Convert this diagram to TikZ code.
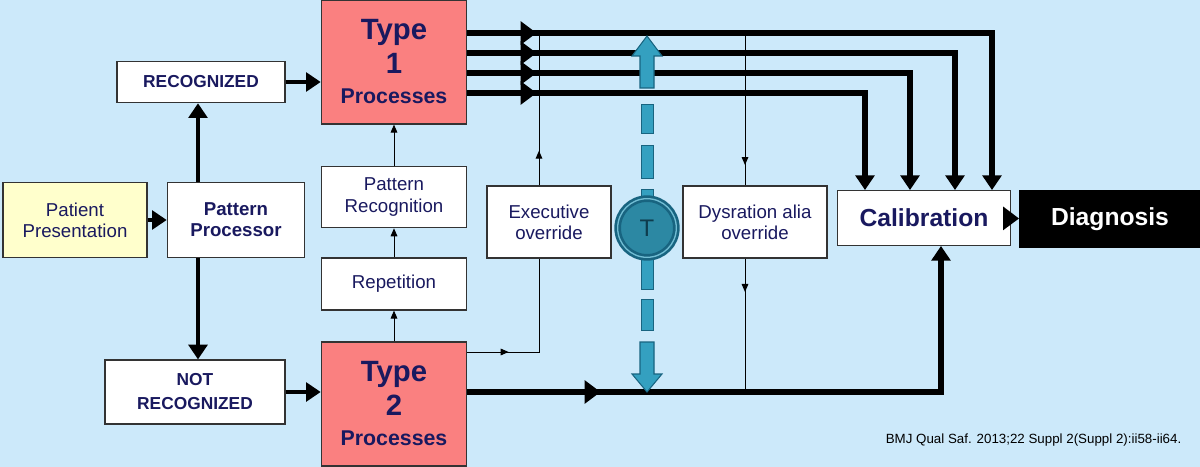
\documentclass[tikz,border=0pt]{standalone}
\usepackage{fontspec}
\setmainfont{Liberation Sans}
\usetikzlibrary{arrows.meta,decorations.markings}
\definecolor{bgblue}{RGB}{204,233,250}
\definecolor{pinkbox}{RGB}{250,128,128}
\definecolor{paleyellow}{RGB}{255,255,204}
\definecolor{navytext}{RGB}{25,25,95}
\definecolor{tblue}{RGB}{52,160,192}
\definecolor{tdark}{RGB}{24,100,128}
\tikzset{
  box/.style={draw=black!80,line width=0.9pt,fill=white,text=navytext,align=center,inner sep=1pt,font=\fontsize{14}{16}\selectfont},
  procbox/.style={box,fill=pinkbox,font=\bfseries\fontsize{22}{25}\selectfont},
  thick/.style={line width=5pt,-{Triangle[length=11pt,width=14pt]}},
  thin/.style={line width=0.75pt,-{Triangle[length=6pt,width=5pt]}},
  midarrow/.style={postaction={decorate},decoration={markings,mark=at position #1 with {\arrow{Triangle[length=12pt,width=17pt]}}}},
  midthin/.style={postaction={decorate},decoration={markings,mark=at position #1 with {\arrow{Triangle[length=6pt,width=5pt]}}}},
}
\begin{document}
\begin{tikzpicture}[x=0.75pt,y=0.75pt,yscale=-1,xscale=1]
\fill[bgblue] (0,0) rectangle (1200,467);
\useasboundingbox (0,0) rectangle (1200,467);

% boxes
\node[box,fill=paleyellow,minimum width=108pt,minimum height=56pt] (patient) at (75,220) {Patient\\Presentation};
\node[box,minimum width=103pt,minimum height=56pt,font=\bfseries\fontsize{14}{16}\selectfont] (proc) at (236,220) {Pattern\\Processor};
\node[box,minimum width=126pt,minimum height=31pt,font=\bfseries\fontsize{13}{15}\selectfont] (rec) at (201,82) {RECOGNIZED};
\node[box,minimum width=135pt,minimum height=48pt,font=\bfseries\fontsize{13}{18}\selectfont] (notrec) at (195,392) {NOT\\RECOGNIZED};
\node[procbox,minimum width=109pt,minimum height=93pt] (type1) at (394,62) {Type\\1\\[-2pt]{\fontsize{16}{19}\selectfont Processes}};
\node[procbox,minimum width=109pt,minimum height=93pt] (type2) at (394,404) {Type\\2\\[-2pt]{\fontsize{16}{19}\selectfont Processes}};
\node[box,minimum width=109pt,minimum height=46pt] (patrec) at (394,197) {Pattern\\Recognition};
\node[box,minimum width=109pt,minimum height=39pt] (repet) at (394,284) {Repetition};
\node[box,minimum width=93pt,minimum height=54pt] (exec) at (549,222) {Executive\\override};
\node[box,minimum width=108pt,minimum height=54pt] (dys) at (755,222) {Dysration alia\\override};
\node[box,minimum width=130pt,minimum height=41pt,font=\bfseries\fontsize{18.5}{20}\selectfont] (cal) at (924,218) {Calibration};
\node[draw=black,fill=black,text=white,minimum width=136pt,minimum height=43pt,inner sep=1pt,font=\bfseries\fontsize{18.5}{20}\selectfont] (diag) at (1110,219) {Diagnosis};
\node[anchor=east,text=black,font=\fontsize{10}{12}\selectfont] (cite) at (1186,440) {BMJ Qual Saf. 2013;22 Suppl 2(Suppl 2):ii58-ii64.};

% connectors on the left
\coordinate (vx) at (198,0);
\draw[thick,line width=3.5pt] (patient) -- (proc);
\draw[thick,line width=3.5pt] (proc.north -| vx) -- (rec.south -| vx);
\draw[thick,line width=3.5pt] (proc.south -| vx) -- (notrec.north -| vx);
\draw[thick,line width=3.5pt] (rec) -- (type1.west |- rec);
\draw[thick,line width=3.5pt] (notrec) -- (type2.west |- notrec);
\draw[thin] (type2) -- (repet);
\draw[thin] (repet) -- (patrec);
\draw[thin] (patrec) -- (type1);
\draw[line width=5pt,-{Triangle[length=12pt,width=17pt]}] (cal) -- (diag);

% type 1 outputs
\coordinate (c1) at (992,0);
\coordinate (c2) at (955,0);
\coordinate (c3) at (910,0);
\coordinate (c4) at (865,0);
\draw[thick,midarrow=52pt] (type1.east |- 0,33) -| (cal.north -| c1);
\draw[thick,midarrow=52pt] (type1.east |- 0,53) -| (cal.north -| c2);
\draw[thick,midarrow=52pt] (type1.east |- 0,73) -| (cal.north -| c3);
\draw[thick,midarrow=52pt] (type1.east |- 0,93) -| (cal.north -| c4);

% type 2 output
\draw[thick,midarrow=100pt] (type2.east |- notrec) -| (cal.south -| 941,0);

% overrides
\draw[line width=0.75pt,midthin=31pt] (type2.east |- 0,352) -| (exec.south -| 539,0);
\draw[line width=0.75pt,midthin=26pt] (exec.north -| 539,0) -- (539,33);
\draw[line width=0.75pt,midthin=99pt] (745,33) -- (dys.north -| 745,0);
\draw[line width=0.75pt,midthin=25pt] (dys.south -| 745,0) -- (745,392);

% T arrows
\draw[tdark,fill=tblue,line width=0.8pt] (640,88) -- (640,56) -- (632,56) -- (647,36) -- (662,56) -- (654,56) -- (654,88) -- cycle;
\draw[tdark,fill=tblue,line width=0.6pt] (641,104) rectangle (653,133);
\draw[tdark,fill=tblue,line width=0.6pt] (641,145) rectangle (653,178);
\draw[tdark,fill=tblue,line width=0.6pt] (641,189) rectangle (653,200);
\draw[tdark,fill=tblue,line width=0.6pt] (641,255) rectangle (653,289);
\draw[tdark,fill=tblue,line width=0.6pt] (641,299) rectangle (653,330);
\draw[tdark,fill=tblue,line width=0.8pt] (640,342) -- (640,374) -- (632,374) -- (647,392) -- (662,374) -- (654,374) -- (654,342) -- cycle;
\node[circle,draw=tdark,line width=2pt,fill=tblue!85!black,minimum size=44pt,inner sep=0pt,text=tdark!60!black,font=\fontsize{18}{20}\selectfont,double=tblue!70,double distance=1pt] (tee) at (647,228) {T};
\end{tikzpicture}
\end{document}
